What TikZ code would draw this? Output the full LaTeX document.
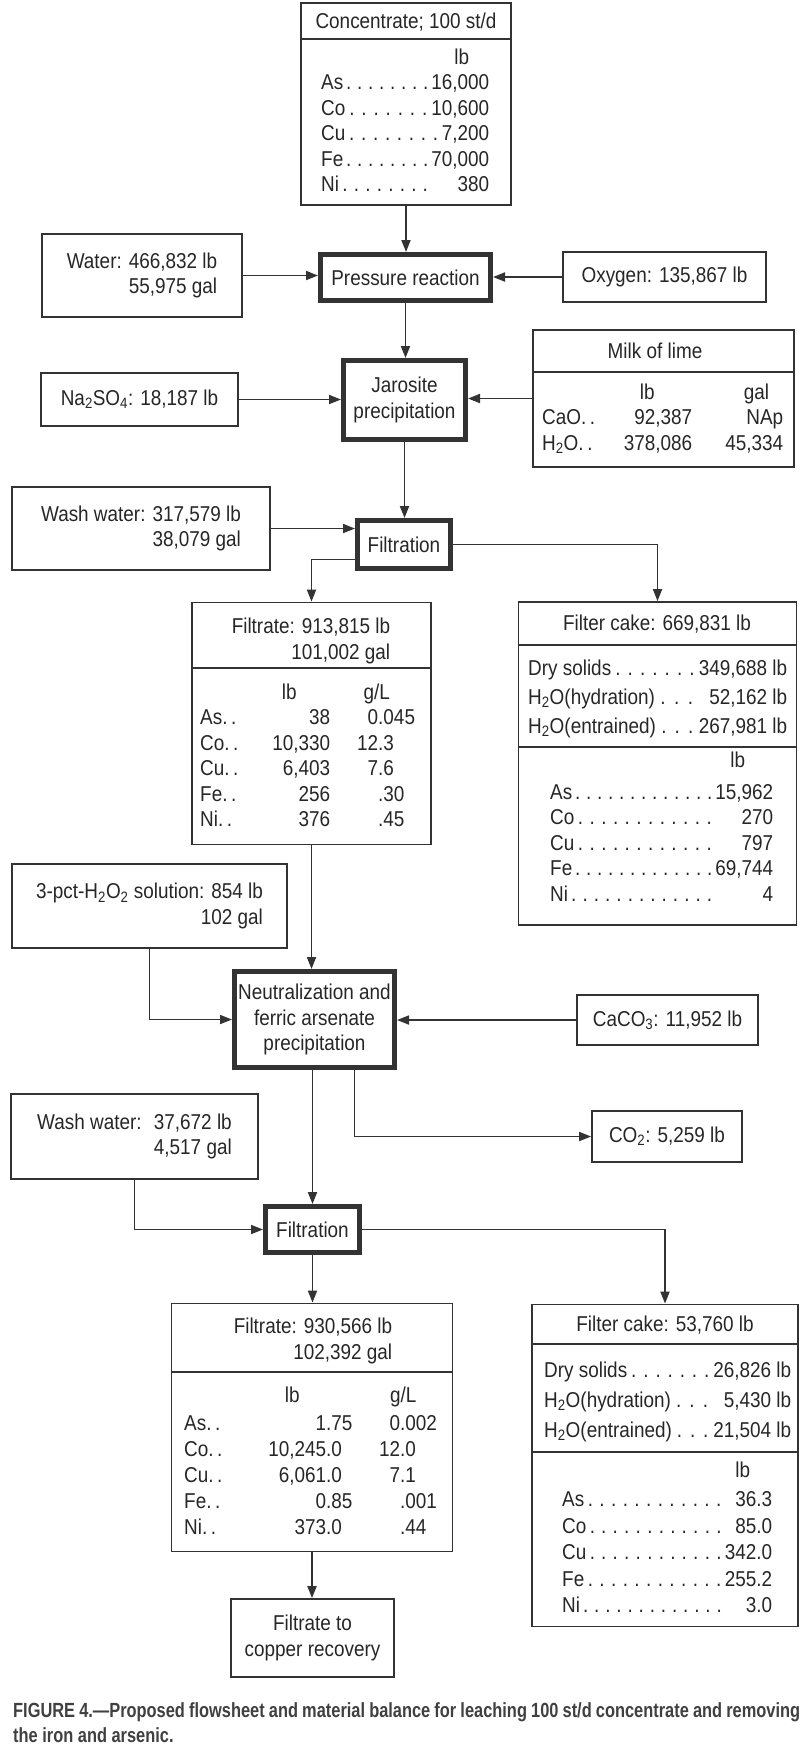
\documentclass[tikz,border=0pt]{standalone}
\usepackage{fontspec}
\setmainfont{Liberation Sans}[FakeStretch=0.88]
\newfontfamily\capfont{Liberation Sans}[FakeStretch=0.8]
\usepackage{array}
\usetikzlibrary{arrows.meta}

\newcommand{\dotfil}{\xleaders\hbox to 11pt{\hss.\hss}\hfill}
\newcommand{\lrow}[3]{\hbox to #1{#2\dotfil#3}}

\begin{document}
\begin{tikzpicture}[x=1pt,y=-1pt]
		\tikzset{box/.style = {draw=black!80, line width=1.8pt, inner sep=0pt, align=center, text=black!85, font=\fontsize{21.5}{25.5}\selectfont}}
		\tikzset{proc/.style = {box, line width=5pt}}
		\tikzset{txt/.style = {inner sep=0pt, text=black!85, font=\fontsize{21.5}{25.5}\selectfont}}
		\tikzset{rule/.style = {draw=black!80, line width=1.8pt}}
		\tikzset{edge/.style = {-{Triangle[length=12pt,width=9pt]}, draw=black!80, line width=1.8pt}}
		
		\useasboundingbox (0,0) rectangle (800,1749);
		
		% boxes
		\node[box, minimum width=210, minimum height=202] (conc)      at (  406,  104) {};
		\node[box, minimum width=200, minimum height=83, align=right] (water) at (142, 275.5) {Water: 466,832 lb\\55,975 gal};
		\node[proc, minimum width=170, minimum height=46] (press)     at (405.5, 277.5) {Pressure reaction};
		\node[box, minimum width=203, minimum height=50]  (oxy)       at (664.5,  277) {Oxygen: 135,867 lb};
		\node[box, minimum width=197, minimum height=53]  (na)        at (139.5, 399.5) {Na\textsubscript{2}SO\textsubscript{4}: 18,187 lb};
		\node[proc, minimum width=122, minimum height=79] (jaro)      at (404.5,  400) {Jarosite\\precipitation};
		\node[box, minimum width=261, minimum height=137] (milk)      at (663.5, 398.5) {};
		\node[box, minimum width=258, minimum height=83, align=right] (wash1) at (141, 528.5) {Wash water: 317,579 lb\\38,079 gal};
		\node[proc, minimum width=93, minimum height=48]  (filt1)     at (  404, 544.5) {Filtration};
		\node[box, minimum width=239, minimum height=242] (filtrate1) at (311.5, 723.5) {};
		\node[box, minimum width=278, minimum height=323] (cake1)     at (657.5, 763.5) {};
		\node[box, minimum width=275, minimum height=84, align=right] (h2o2) at (149.5, 906) {3-pct-H\textsubscript{2}O\textsubscript{2} solution: 854 lb\\102 gal};
		\node[proc, minimum width=160, minimum height=96] (neut)      at (314.5, 1019.5) {Neutralization and\\ferric arsenate\\precipitation};
		\node[box, minimum width=181, minimum height=50]  (caco3)     at (667.5, 1020) {CaCO\textsubscript{3}: 11,952 lb};
		\node[box, minimum width=150, minimum height=51]  (co2)       at (  667, 1136.5) {CO\textsubscript{2}: 5,259 lb};
		\node[box, minimum width=247, minimum height=85, align=right] (wash2) at (134.5, 1136.5) {Wash water: \ 37,672 lb\\4,517 gal};
		\node[proc, minimum width=94, minimum height=46]  (filt2)     at (312.5, 1229.5) {Filtration};
		\node[box, minimum width=281, minimum height=248] (filtrate2) at (  312, 1427.5) {};
		\node[box, minimum width=266, minimum height=322] (cake2)     at (  665, 1465.5) {};
		\node[box, minimum width=163, minimum height=78]  (copper)    at (312.5, 1638) {Filtrate to\\copper recovery};
		
		% box contents
		\node[txt] (conchead) at (406, 22) {Concentrate; 100 st/d};
		\node[txt, anchor=base west] (concbody) at (321, 64) {\begin{tabular}[t]{@{}l@{}}
			\hbox to 168pt{\hfill lb\hspace*{20pt}}\\
			\lrow{168pt}{As}{16,000}\\
			\lrow{168pt}{Co}{10,600}\\
			\lrow{168pt}{Cu}{7,200}\\
			\lrow{168pt}{Fe}{70,000}\\
			\lrow{168pt}{Ni}{\phantom{16,}380}
			\end{tabular}};
		
		\node[txt] (milkhead) at (655, 351) {Milk of lime};
		\node[txt, anchor=base west] (milkbody) at (542, 399) {\begin{tabular}[t]{@{}w{l}{60pt}@{}w{r}{90pt}@{}w{r}{91pt}@{}}
			& \multicolumn{1}{@{}c@{}}{lb} & \multicolumn{1}{@{}r@{}}{gal\hspace*{14pt}}\\
			CaO.\,. & 92,387 & NAp\\
			H\textsubscript{2}O.\,. & 378,086 & 45,334
			\end{tabular}};
		
		\node[txt, align=right] (filtrate1head) at (311, 641) {Filtrate: 913,815 lb\\101,002 gal};
		\node[txt, anchor=base west] (filtrate1body) at (200, 699) {\begin{tabular}[t]{@{}w{l}{48pt}@{}w{r}{82pt}@{}w{r}{48pt}@{}w{l}{45pt}@{}}
			& \multicolumn{1}{@{}c@{}}{lb} & \multicolumn{2}{@{}c@{}}{g/L}\\
			As.\,. & 38 & 0 & .045\\
			Co.\,. & 10,330 & 12 & .3\\
			Cu.\,. & 6,403 & 7 & .6\\
			Fe.\,. & 256 & & .30\\
			Ni.\,. & 376 & & .45
			\end{tabular}};
		
		\node[txt] (cake1head) at (657, 624) {Filter cake: 669,831 lb};
		\node[txt, anchor=base west] (cake1top) at (528, 675) {\begin{tabular}[t]{@{}l@{}}
			\lrow{259pt}{Dry solids}{349,688 lb}\\[3.5pt]
			\lrow{259pt}{H\textsubscript{2}O(hydration)}{\phantom{3}52,162 lb}\\[3.5pt]
			\lrow{259pt}{H\textsubscript{2}O(entrained)}{267,981 lb}
			\end{tabular}};
		\node[txt, anchor=base west] (cake1body) at (550, 767) {\begin{tabular}[t]{@{}l@{}}
			\hbox to 223pt{\hfill lb\hspace*{28pt}}\\[6.5pt]
			\lrow{223pt}{As}{15,962}\\
			\lrow{223pt}{Co}{\phantom{15,}270}\\
			\lrow{223pt}{Cu}{\phantom{15,}797}\\
			\lrow{223pt}{Fe}{69,744}\\
			\lrow{223pt}{Ni}{\phantom{15,96}4}
			\end{tabular}};
		
		\node[txt, align=right] (filtrate2head) at (313, 1341) {Filtrate: 930,566 lb\\102,392 gal};
		\node[txt, anchor=base west] (filtrate2body) at (184, 1402) {\begin{tabular}[t]{@{}w{l}{42pt}@{}w{r}{100pt}@{}w{l}{32pt}@{}w{r}{42pt}@{}w{l}{48pt}@{}}
			& \multicolumn{2}{@{}c@{}}{lb} & \multicolumn{2}{@{}c@{}}{g/L}\\[2.5pt]
			As.\,. & 1 & .75 & 0 & .002\\[0.7pt]
			Co.\,. & 10,245 & .0 & 12 & .0\\[0.7pt]
			Cu.\,. & 6,061 & .0 & 7 & .1\\[0.7pt]
			Fe.\,. & 0 & .85 & & .001\\[0.7pt]
			Ni.\,. & 373 & .0 & & .44
			\end{tabular}};
		
		\node[txt] (cake2head) at (665, 1325) {Filter cake: 53,760 lb};
		\node[txt, anchor=base west] (cake2top) at (544, 1377.5) {\begin{tabular}[t]{@{}l@{}}
			\lrow{247pt}{Dry solids}{26,826 lb}\\[4.5pt]
			\lrow{247pt}{H\textsubscript{2}O(hydration)}{\phantom{2}5,430 lb}\\[4.5pt]
			\lrow{247pt}{H\textsubscript{2}O(entrained)}{21,504 lb}
			\end{tabular}};
		\node[txt, anchor=base west] (cake2body) at (562, 1477) {\begin{tabular}[t]{@{}l@{}}
			\hbox to 210pt{\hfill lb\hspace*{22pt}}\\[4pt]
			\lrow{210pt}{As}{\phantom{3}36.3}\\[1pt]
			\lrow{210pt}{Co}{\phantom{3}85.0}\\[1pt]
			\lrow{210pt}{Cu}{342.0}\\[1pt]
			\lrow{210pt}{Fe}{255.2}\\[1pt]
			\lrow{210pt}{Ni}{\phantom{34}3.0}
			\end{tabular}};
		
		% dividers
		\draw[rule] (conc.west |- 0,39) -- (conc.east |- 0,39);
		\draw[rule] (milk.west |- 0,372) -- (milk.east |- 0,372);
		\draw[rule] (filtrate1.west |- 0,668) -- (filtrate1.east |- 0,668);
		\draw[rule] (cake1.west |- 0,645) -- (cake1.east |- 0,645);
		\draw[rule] (cake1.west |- 0,747) -- (cake1.east |- 0,747);
		\draw[rule] (filtrate2.west |- 0,1372) -- (filtrate2.east |- 0,1372);
		\draw[rule] (cake2.west |- 0,1344) -- (cake2.east |- 0,1344);
		\draw[rule] (cake2.west |- 0,1452) -- (cake2.east |- 0,1452);
		
		% flows
		\draw[edge] (conc) -- (conc |- press.north);
		\draw[edge] (water.east) -- (water.east -| press.west);
		\draw[edge] (oxy.west) -- (oxy.west -| press.east);
		\draw[edge] (press) -- (press |- jaro.north);
		\draw[edge] (na.east) -- (na.east -| jaro.west);
		\draw[edge] (milk.west) -- (milk.west -| jaro.east);
		\draw[edge] (jaro) -- (jaro |- filt1.north);
		\draw[edge] (wash1.east) -- (wash1.east -| filt1.west);
		\draw[edge] (filt1.east) -| (cake1.north);
		\draw[edge] ([yshift=-15pt]filt1.west) -| (filtrate1.north);
		\draw[edge] (filtrate1) -- (filtrate1 |- neut.north);
		\draw[edge] (h2o2.south) |- (neut.west);
		\draw[edge] (caco3.west) -- (caco3.west -| neut.east);
		\draw[edge] ([xshift=40pt]neut.south) |- (co2.west);
		\draw[edge] (neut.south -| filt2.north) -- (filt2.north);
		\draw[edge] (wash2.south) |- (filt2.west);
		\draw[edge] (filt2.east) -| (cake2.north);
		\draw[edge] (filt2) -- (filt2 |- filtrate2.north);
		\draw[edge] (filtrate2) -- (filtrate2 |- copper.north);
		
		% caption
		\node[inner sep=0pt, anchor=base west, text=black!75, font=\capfont\bfseries\fontsize{20.5}{23}\selectfont] (cap1) at (13, 1717)
			{\hbox to 787pt{FIGURE 4.—Proposed flowsheet and material balance for leaching 100 st/d concentrate and removing}};
		\node[inner sep=0pt, anchor=base west, text=black!75, font=\capfont\bfseries\fontsize{20.5}{23}\selectfont] (cap2) at (13, 1742)
			{the iron and arsenic.};
\end{tikzpicture}
\end{document}
